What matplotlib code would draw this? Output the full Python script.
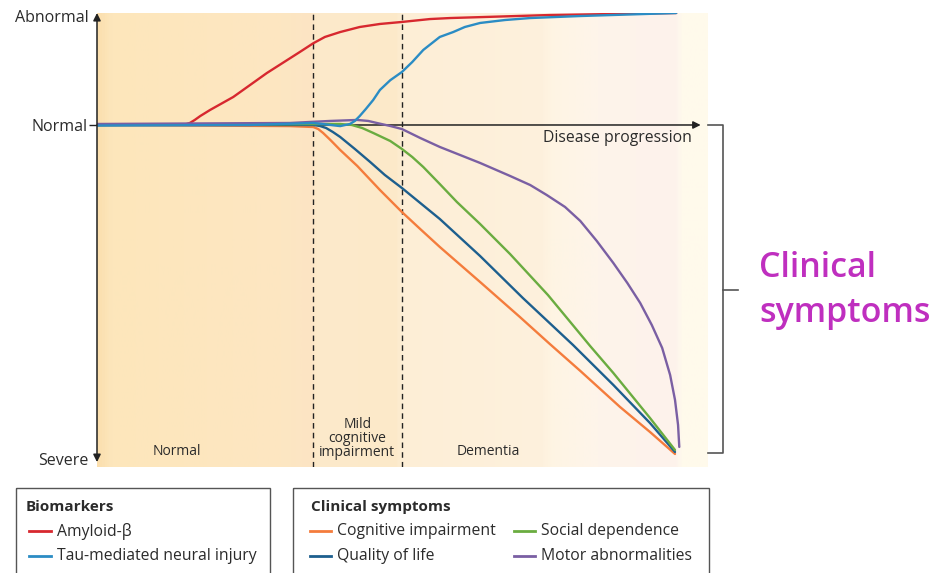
import numpy as np
import matplotlib
matplotlib.use("Agg")
import matplotlib.pyplot as plt
from matplotlib.colors import LinearSegmentedColormap
from matplotlib.patches import Rectangle

plt.rcParams['font.family'] = ['Open Sans', 'DejaVu Sans']

# progression runs 0..100, level: normal = 0, abnormal = 1, severe = -3
amyloid_x = [0, 14.4, 15.2, 16.0, 16.9, 18.5, 22.3, 27.8, 33.2, 35.4, 37.3, 39.8, 43.0, 46.3,
             49.9, 54.5, 57.8, 74.1, 94.8]
amyloid_y = [0, 0.004, 0.018, 0.045, 0.08, 0.134, 0.25, 0.464, 0.652, 0.73, 0.786, 0.83, 0.875,
             0.902, 0.92, 0.946, 0.955, 0.982, 1.0]

tau_x = [0, 25.0, 35.4, 39.8, 41.4, 42.2, 43.0, 44.0, 45.2, 46.3, 48.0, 49.9, 51.6, 53.4, 56.1,
         58.3, 60.2, 62.7, 66.8, 70.9, 79.1, 94.8]
tau_y = [-0.005, 0, 0.018, -0.01, 0.009, 0.036, 0.08, 0.143, 0.223, 0.3125, 0.40, 0.473, 0.5625,
         0.67, 0.786, 0.83, 0.875, 0.911, 0.9375, 0.955, 0.973, 1.0]

cog_x = [0, 31.6, 35.4, 36.2, 37.0, 38.2, 39.8, 42.6, 46.3, 49.9, 52.9, 56.1, 62.7, 69.2, 74.1,
         79.1, 85.6, 90.5, 94.6]
cog_y = [0, -0.01, -0.018, -0.036, -0.071, -0.134, -0.223, -0.366, -0.58, -0.777, -0.929, -1.089,
         -1.402, -1.714, -1.955, -2.196, -2.518, -2.741, -2.9375]

qol_x = [0, 35.4, 36.5, 37.5, 38.6, 39.8, 42.2, 44.7, 47.1, 49.9, 56.1, 62.7, 69.7, 77.9, 84.5,
         90.5, 94.6]
qol_y = [0, 0, -0.009, -0.027, -0.0625, -0.107, -0.214, -0.33, -0.446, -0.5625, -0.839, -1.17,
         -1.545, -1.964, -2.321, -2.661, -2.92]

soc_x = [0, 39.8, 41.7, 43.4, 45.2, 48.0, 49.9, 51.6, 53.4, 56.1, 58.9, 62.7, 67.6, 73.8, 80.7,
         84.5, 90.5, 94.6]
soc_y = [0, 0.009, 0, -0.027, -0.071, -0.143, -0.214, -0.286, -0.375, -0.527, -0.6875, -0.884,
         -1.152, -1.518, -1.973, -2.214, -2.616, -2.902]

motor_x = [0, 31.6, 38.1, 42.6, 44.4, 45.8, 48.0, 49.9, 52.9, 56.1, 62.7, 67.6, 70.9, 73.6, 76.6,
           79.1, 81.8, 84.5, 86.8, 88.9, 90.8, 92.5, 93.8, 94.6, 95.1, 95.3]
motor_y = [0.009, 0.018, 0.036, 0.045, 0.036, 0.018, -0.009, -0.036, -0.116, -0.196, -0.339,
           -0.455, -0.536, -0.625, -0.732, -0.857, -1.036, -1.232, -1.411, -1.589, -1.786, -1.991,
           -2.232, -2.455, -2.679, -2.875]

biomarkers = [("Amyloid-β", "#d7282f", amyloid_x, amyloid_y),
              ("Tau-mediated neural injury", "#2b8cc4", tau_x, tau_y)]
symptoms = [("Cognitive impairment", "#f47c3c", cog_x, cog_y),
            ("Quality of life", "#1d5f8e", qol_x, qol_y),
            ("Social dependence", "#6aac40", soc_x, soc_y),
            ("Motor abnormalities", "#7a5fa3", motor_x, motor_y)]

phase_edges = [35.4, 49.9]
phase_names = ["Normal", "Mild\ncognitive\nimpairment", "Dementia"]
phase_label_x = [13.1, 42.6, 64.0]

# background shading stops (position along progression, colour)
bg_stops = [(0.0, "#fbdfae"), (0.02, "#fde6bb"), (0.30, "#fde7c2"), (0.35, "#fce4c4"),
            (0.36, "#fdeacb"), (0.49, "#fce9c9"), (0.50, "#fdeed6"), (0.73, "#fef1dd"),
            (0.75, "#fef5e4"), (0.82, "#fef4ea"), (0.95, "#fdf2ec"), (0.96, "#fffaec"),
            (1.0, "#fffaeb")]

text_col = "#2b2b2b"

fig = plt.figure(figsize=(9.36, 5.73), dpi=100)
ax = fig.add_axes([97 / 936, 1 - 467 / 573, 611 / 936, 454 / 573])
ymin, ymax = -3.054, 1.0
ax.set_xlim(0, 100)
ax.set_ylim(ymin, ymax)

cmap = LinearSegmentedColormap.from_list("bg", bg_stops)
ax.imshow(np.linspace(0, 1, 600)[None, :], cmap=cmap, aspect="auto",
          extent=[0, 100, ymin, ymax], zorder=0)

for xe in phase_edges:
    ax.axvline(xe, color="#222222", lw=1.0, dashes=(4, 3), zorder=1)

for name, col, xs, ys in biomarkers[:1] + symptoms + biomarkers[1:]:
    ax.plot(xs, ys, color=col, lw=1.7, solid_capstyle="round", solid_joinstyle="round", zorder=3)

# axes arrows
ax.annotate("", xy=(0, 1.0), xytext=(0, -3.01), annotation_clip=False,
            arrowprops=dict(arrowstyle="<|-|>", color="#222222", lw=1.1, mutation_scale=11,
                            shrinkA=0, shrinkB=0), zorder=4)
ax.annotate("", xy=(98.8, 0), xytext=(0, 0), annotation_clip=False,
            arrowprops=dict(arrowstyle="-|>", color="#222222", lw=1.1, mutation_scale=11,
                            shrinkA=0, shrinkB=0), zorder=2)

for s in ax.spines.values():
    s.set_visible(False)
ax.set_xticks([])
ax.set_yticks([0])
ax.set_yticklabels(["Normal"], fontsize=11.5, color=text_col)
ax.tick_params(axis="y", length=6, width=1, color="#222222", pad=1)
ax.text(-1.4, 0.955, "Abnormal", ha="right", va="center", fontsize=11.5, color=text_col)
ax.text(-1.4, -3.0, "Severe", ha="right", va="center", fontsize=11.5, color=text_col)
ax.text(97.4, -0.12, "Disease progression", ha="right", va="center", fontsize=11.3, color=text_col)

for px, nm in zip(phase_label_x, phase_names):
    if "\n" in nm:
        ax.text(px, -2.8, nm, ha="center", va="center", fontsize=10, color=text_col, linespacing=0.92)
    else:
        ax.text(px, -2.92, nm, ha="center", va="center", fontsize=10, color=text_col)

# overlay in pixel coordinates for bracket and legend boxes
ov = fig.add_axes([0, 0, 1, 1])
ov.set_xlim(0, 936)
ov.set_ylim(573, 0)
ov.axis("off")
ov.patch.set_visible(False)

ov.plot([708, 723, 723, 708], [125, 125, 453, 453], color="#555555", lw=1.2)
ov.plot([723, 738], [290, 290], color="#555555", lw=1.2)
ov.text(759, 268, "Clinical", color="#bf2fbf", fontsize=24.5, fontweight="semibold",
        ha="left", va="center")
ov.text(759, 313, "symptoms", color="#bf2fbf", fontsize=24.5, fontweight="semibold",
        ha="left", va="center")

ov.add_patch(Rectangle((16, 488), 254, 100, fill=False, ec="#555555", lw=1.0, clip_on=False))
ov.add_patch(Rectangle((293, 488), 416, 100, fill=False, ec="#555555", lw=1.0, clip_on=False))
ov.text(26, 507, "Biomarkers", fontsize=11, fontweight="bold", color=text_col, ha="left", va="center")
ov.text(311, 507, "Clinical symptoms", fontsize=11, fontweight="bold", color=text_col, ha="left", va="center")

rows = [531, 556]
for i, (name, col, _, _) in enumerate(biomarkers):
    ov.plot([29, 51], [rows[i], rows[i]], color=col, lw=2)
    ov.text(57, rows[i], name, fontsize=11.3, color=text_col, ha="left", va="center")
cols = [(310, 337), (514, 541)]
for i, (name, col, _, _) in enumerate(symptoms):
    lx, tx = cols[i // 2]
    ry = rows[i % 2]
    ov.plot([lx, lx + 21], [ry, ry], color=col, lw=2)
    ov.text(tx, ry, name, fontsize=11.3, color=text_col, ha="left", va="center")

fig.savefig("out.png", dpi=100)
